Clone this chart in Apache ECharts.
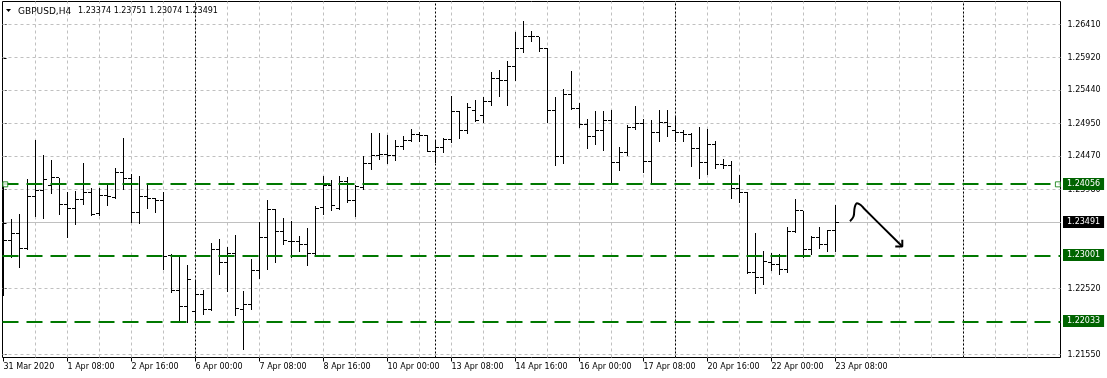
<!DOCTYPE html>
<html><head><meta charset="utf-8">
<script src="https://cdn.jsdelivr.net/npm/echarts@6/dist/echarts.min.js"></script>
<style>html,body{margin:0;padding:0;background:#fff}#c{width:1107px;height:378px}</style>
</head><body><div id="c"></div>
<script>
const symbolName = 'GBPUSD,H4';
const tickLabels = ['31 Mar 2020','1 Apr 08:00','2 Apr 16:00','6 Apr 00:00','7 Apr 08:00','8 Apr 16:00','10 Apr 00:00','13 Apr 08:00','14 Apr 16:00','16 Apr 00:00','17 Apr 08:00','20 Apr 16:00','22 Apr 00:00','23 Apr 08:00'];
const barsPerLabel = 8;
const opens = [1.23100,1.23229,1.23336,1.23111,1.23872,1.23961,1.24039,1.24152,1.23755,1.23696,
1.23828,1.23936,1.23631,1.23887,1.23867,1.24226,1.24137,1.23641,1.23872,1.23843,
1.23814,1.23012,1.22488,1.22252,1.22179,1.22429,1.22213,1.23092,1.22900,1.23033,
1.22213,1.22286,1.22782,1.23268,1.23681,1.23361,1.23214,1.23209,1.23165,1.23033,
1.23710,1.24039,1.23696,1.24098,1.23814,1.24005,1.24363,1.24481,1.24491,1.24481,
1.24618,1.24697,1.24794,1.24780,1.24544,1.24594,1.24712,1.25129,1.24844,1.25148,
1.25070,1.25276,1.25619,1.25590,1.25796,1.26061,1.26238,1.26229,1.26052,1.25139,
1.24461,1.25375,1.25168,1.24942,1.24765,1.24844,1.25001,1.24373,1.24520,1.24893,
1.24952,1.24392,1.24815,1.24971,1.24844,1.24824,1.24794,1.24588,1.24373,1.24638,
1.24344,1.24333,1.23999,1.23931,1.22760,1.22684,1.22900,1.22871,1.22802,1.23361,
1.23666,1.23096,1.23273,1.23174,1.23374];
const highs = [1.24087,1.23548,1.23622,1.24137,1.24716,1.24495,1.24417,1.24152,1.23936,1.23965,
1.24373,1.24005,1.24005,1.24083,1.24300,1.24741,1.24211,1.24182,1.24049,1.23862,
1.23936,1.23033,1.22993,1.22871,1.22654,1.22503,1.23195,1.23254,1.23130,1.23317,
1.22492,1.22959,1.23498,1.23828,1.23690,1.23567,1.23523,1.23298,1.23420,1.23740,
1.24186,1.24127,1.24186,1.24171,1.24049,1.24466,1.24809,1.24819,1.24780,1.24702,
1.24771,1.24864,1.24834,1.24780,1.24712,1.24735,1.25364,1.25139,1.25247,1.25305,
1.25335,1.25707,1.25737,1.25875,1.26297,1.26464,1.26307,1.26229,1.26061,1.25345,
1.25463,1.25728,1.25257,1.25011,1.25139,1.25129,1.25148,1.24609,1.24933,1.25217,
1.25011,1.25001,1.25158,1.25158,1.25059,1.24853,1.24805,1.24903,1.24864,1.24687,
1.24432,1.24403,1.24196,1.23940,1.23342,1.23077,1.23048,1.23037,1.23431,1.23843,
1.23666,1.23302,1.23425,1.23380,1.23751];
const lows = [1.22429,1.22993,1.22836,1.23106,1.23587,1.23557,1.23925,1.23616,1.23277,1.23469,
1.23763,1.23601,1.23607,1.23749,1.23858,1.23984,1.23498,1.23489,1.23705,1.23646,
1.22806,1.22467,1.22033,1.22033,1.22065,1.22149,1.22208,1.22732,1.22482,1.22129,
1.21628,1.22217,1.22679,1.22812,1.22909,1.23174,1.22989,1.23071,1.22861,1.23033,
1.23616,1.23685,1.23696,1.23803,1.23587,1.23984,1.24279,1.24426,1.24367,1.24417,
1.24573,1.24697,1.24687,1.24544,1.24382,1.24529,1.24677,1.24735,1.24815,1.24992,
1.24981,1.25227,1.25354,1.25227,1.25590,1.26012,1.26160,1.26023,1.24971,1.24344,
1.24363,1.25168,1.24903,1.24588,1.24657,1.24559,1.24056,1.24264,1.24491,1.24874,
1.24235,1.24056,1.24687,1.24775,1.24697,1.24697,1.24323,1.24146,1.24205,1.24294,
1.24294,1.23862,1.23803,1.22753,1.22458,1.22595,1.22791,1.22732,1.22762,1.23361,
1.22989,1.23027,1.23121,1.23071,1.23074];
const closes = [1.23229,1.23336,1.23111,1.23881,1.23961,1.24123,1.24152,1.23755,1.23696,1.23828,
1.23936,1.23616,1.23887,1.23877,1.24226,1.24137,1.23641,1.23872,1.23843,1.23814,
1.22993,1.22488,1.22252,1.22650,1.22429,1.22213,1.23092,1.22900,1.23042,1.22223,
1.22286,1.22782,1.23268,1.23681,1.23361,1.23233,1.23209,1.23165,1.23033,1.23700,
1.24039,1.23744,1.24098,1.23814,1.24029,1.24363,1.24481,1.24491,1.24481,1.24618,
1.24697,1.24794,1.24780,1.24544,1.24594,1.24712,1.25129,1.24844,1.25183,1.24992,
1.25276,1.25619,1.25590,1.25796,1.26061,1.26238,1.26235,1.26052,1.25148,1.24461,
1.25375,1.25168,1.24942,1.24765,1.24844,1.24992,1.24373,1.24520,1.24893,1.24952,
1.24392,1.24815,1.24971,1.24912,1.24824,1.24794,1.24588,1.24373,1.24638,1.24344,
1.24333,1.23999,1.23931,1.22760,1.22684,1.22920,1.22871,1.22802,1.23361,1.23666,
1.23096,1.23273,1.23174,1.23374,1.23491];
const gridPrices = [1.26410,1.25920,1.25440,1.24950,1.24470,1.23980,1.23490,1.23010,1.22520,1.22030,1.21550];
const priceLabels = [1.26410,1.25920,1.25440,1.24950,1.24470,1.23980,1.22520,1.21550];
const levelPrices = [1.24056,1.23001,1.22033];
const levelAnchors = [[0.22,1.24056],[131.8,1.24056]];
const weekSeparators = [24,54,84,120];
const gridBarStep = 4;
const slotCount = 132;
const arrowPath = [[105.81,1.23513],[106.25,1.23582],[106.40,1.23715],[106.69,1.23778],[107.15,1.23752],[107.56,1.23700],[112.35,1.23140]];
const arrowHead = [[111.47,1.23140],[112.35,1.23140],[112.35,1.23239]];

const GREEN = '#006400';
const LINE_GREEN = 'rgb(0,120,0)';
const FONT = 'DejaVu Sans, sans-serif';
const FS = 8;
const last = closes.length - 1;
const currentPrice = closes[last];
const bars = opens.map((o,i)=>[i,o,highs[i],lows[i],closes[i]]);
const labelIdx = tickLabels.map((_,i)=>i*barsPerLabel);
const vGrid = [];
for (let v = gridBarStep; v < slotCount; v += gridBarStep) vGrid.push(v);
const hGrid = gridPrices.filter(g => !levelPrices.some(l => Math.abs(l - g) < 0.0002));

const chart = echarts.init(document.getElementById('c'), null, {renderer:'canvas'});
const helper = (name, z, markLine) => ({type:'line', name, data:[], z, silent:true,
  markLine: Object.assign({silent:true, symbol:['none','none'], animation:false, precision:6}, markLine)});
const hLine = (name, z, price, color, dash, labelBg, width) => ({
  type:'custom', name, z, silent:true, clip:false, data:[[0, price]],
  renderItem:(params, api)=>{
    const cs = params.coordSys;
    const w = width || 1;
    const yc = api.coord([0, api.value(1)])[1];
    const y = w % 2 ? Math.floor(yc) + 0.5 : Math.round(yc);
    const kids = [{type:'line', shape:{x1:cs.x, y1:y, x2:cs.x+cs.width, y2:y},
      style:{stroke:color, fill:null, lineWidth:w, lineDash:dash || null, opacity:1}}];
    if (labelBg) kids.push({type:'text', x:cs.x+cs.width+2.5, y:Math.floor(yc),
      style:{text:Number(api.value(1)).toFixed(5), fill:'#fff', backgroundColor:labelBg, padding:[2,4,1,4],
        font:FS+'px '+FONT, verticalAlign:'middle', align:'left', lineHeight:9}});
    return {type:'group', children:kids};
  }});

chart.setOption({
  animation:false,
  backgroundColor:'#fff',
  title:[
    {text:symbolName, left:18, top:7, padding:0, textStyle:{fontSize:9, fontWeight:'normal', color:'#000', fontFamily:FONT}},
    {text:[opens[last],highs[last],lows[last],closes[last]].map(v=>v.toFixed(5)).join(' '), left:78, top:7, padding:0, textStyle:{fontSize:FS, fontWeight:'normal', color:'#000', fontFamily:FONT}}
  ],
  graphic:[{type:'polygon', shape:{points:[[6,9],[11,9],[8.5,12]]}, style:{fill:'#000'}}],
  grid:{left:2.5, top:1.5, right:46.5, bottom:20.5, show:true, borderColor:'#000', borderWidth:1, backgroundColor:'transparent'},
  xAxis:{type:'value', min:-0.125, max:slotCount+0.125,
    axisLine:{show:false}, splitLine:{show:false},
    axisTick:{show:true, length:4, customValues:labelIdx, lineStyle:{color:'#000'}},
    axisLabel:{customValues:labelIdx, align:'left', margin:5, fontSize:FS, color:'#000', fontFamily:FONT,
      formatter:v=>tickLabels[Math.round(v/barsPerLabel)] || ''}},
  yAxis:{type:'value', position:'right', min:1.215058, max:1.267487, scale:true,
    axisLine:{show:false}, splitLine:{show:false},
    axisTick:{show:true, length:3, customValues:gridPrices, lineStyle:{color:'#000'}},
    axisLabel:{customValues:priceLabels, margin:7, fontSize:FS, color:'#000', fontFamily:FONT, formatter:v=>v.toFixed(5)}},
  series:[
    ...hGrid.map((v,i)=>hLine('hgrid'+i, 1, v, '#c0c0c0', [3,3], null, 1)),
    helper('vgrid', 1, {lineStyle:{color:'#c0c0c0', width:1, type:[3,3]}, label:{show:false}, data:vGrid.map(v=>({xAxis:v}))}),
    helper('sep', 2, {lineStyle:{color:'#000', width:1, type:[2,2]}, label:{show:false}, data:weekSeparators.map(v=>({xAxis:v}))}),
    hLine('price', 2, currentPrice, '#c0c0c0', null, '#000', 1),
    {type:'custom', name:'bars', z:5, clip:true, data:bars,
      renderItem:(params, api)=>{
        const i = api.value(0);
        const pH = api.coord([i, api.value(2)]);
        const pL = api.coord([i, api.value(3)]);
        const pO = api.coord([i, api.value(1)]);
        const pC = api.coord([i, api.value(4)]);
        const cx = Math.floor(pH[0]);
        const yo = Math.floor(pO[1]) + 0.5, yc = Math.floor(pC[1]) + 0.5;
        const st = {stroke:'#000', lineWidth:1};
        return {type:'group', children:[
          {type:'line', shape:{x1:cx+0.5, y1:Math.round(pH[1]), x2:cx+0.5, y2:Math.round(pL[1])+1}, style:st},
          {type:'line', shape:{x1:cx-3, y1:yo, x2:cx, y2:yo}, style:st},
          {type:'line', shape:{x1:cx+1, y1:yc, x2:cx+4, y2:yc}, style:st}
        ]};
      }},
    ...levelPrices.map((v,i)=>hLine('level'+i, 6, v, LINE_GREEN, [16,8], GREEN, 2)),
    {type:'scatter', name:'anchors', z:7, silent:true, symbol:'rect', symbolSize:5, data:levelAnchors,
      itemStyle:{color:'#fff', borderColor:LINE_GREEN, borderWidth:1}},
    {type:'line', name:'arrow', z:8, silent:true, smooth:0.4, showSymbol:false, data:arrowPath, lineStyle:{color:'#000', width:2}},
    {type:'line', name:'arrowHead', z:8, silent:true, showSymbol:false, data:arrowHead, lineStyle:{color:'#000', width:2}}
  ]
});
</script></body></html>
